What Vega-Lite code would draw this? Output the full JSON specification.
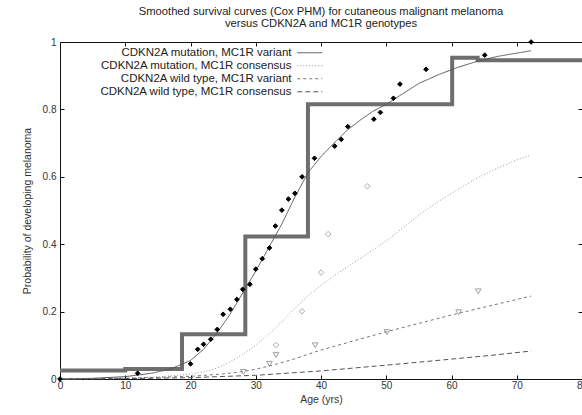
{
  "$schema": "https://vega.github.io/schema/vega-lite/v6.json",
  "width": 522,
  "height": 337,
  "autosize": {"type": "none"},
  "padding": {"left": 60, "top": 42, "right": 0, "bottom": 36},
  "background": "white",
  "config": {
    "view": {"stroke": null},
    "font": "Liberation Sans",
    "axis": {"grid": false, "domainColor": "#111", "tickColor": "#111", "labelColor": "#333", "titleColor": "#333", "labelFont": "Liberation Sans", "titleFont": "Liberation Sans", "titleFontWeight": "normal", "labelFontSize": 10, "titleFontSize": 10.5}
  },
  "title": {
    "text": ["Smoothed survival curves (Cox PHM) for cutaneous malignant melanoma", "versus CDKN2A and MC1R genotypes"],
    "font": "Liberation Sans",
    "fontSize": 11.2,
    "fontWeight": "normal",
    "color": "#222",
    "anchor": "middle",
    "lineHeight": 12,
    "offset": 8
  },
  "datasets": {
    "steps": [
      {"age": 0, "p": 0.025},
      {"age": 10, "p": 0.03},
      {"age": 18.7, "p": 0.133},
      {"age": 28.4, "p": 0.423},
      {"age": 38.0, "p": 0.815},
      {"age": 60.1, "p": 0.953},
      {"age": 64, "p": 0.946},
      {"age": 80, "p": 0.946}
    ],
    "curves": [
      {"series": "CDKN2A mutation, MC1R variant", "age": 0, "p": 0},
      {"series": "CDKN2A mutation, MC1R variant", "age": 5, "p": 0.002},
      {"series": "CDKN2A mutation, MC1R variant", "age": 10, "p": 0.007},
      {"series": "CDKN2A mutation, MC1R variant", "age": 14, "p": 0.017},
      {"series": "CDKN2A mutation, MC1R variant", "age": 17, "p": 0.03},
      {"series": "CDKN2A mutation, MC1R variant", "age": 20, "p": 0.055},
      {"series": "CDKN2A mutation, MC1R variant", "age": 22, "p": 0.088},
      {"series": "CDKN2A mutation, MC1R variant", "age": 24, "p": 0.135},
      {"series": "CDKN2A mutation, MC1R variant", "age": 26, "p": 0.19},
      {"series": "CDKN2A mutation, MC1R variant", "age": 28, "p": 0.255},
      {"series": "CDKN2A mutation, MC1R variant", "age": 30, "p": 0.32},
      {"series": "CDKN2A mutation, MC1R variant", "age": 32, "p": 0.39},
      {"series": "CDKN2A mutation, MC1R variant", "age": 34, "p": 0.46},
      {"series": "CDKN2A mutation, MC1R variant", "age": 36, "p": 0.54},
      {"series": "CDKN2A mutation, MC1R variant", "age": 38, "p": 0.612},
      {"series": "CDKN2A mutation, MC1R variant", "age": 40, "p": 0.66},
      {"series": "CDKN2A mutation, MC1R variant", "age": 42, "p": 0.70},
      {"series": "CDKN2A mutation, MC1R variant", "age": 44, "p": 0.738},
      {"series": "CDKN2A mutation, MC1R variant", "age": 46, "p": 0.768},
      {"series": "CDKN2A mutation, MC1R variant", "age": 48, "p": 0.795},
      {"series": "CDKN2A mutation, MC1R variant", "age": 50, "p": 0.815},
      {"series": "CDKN2A mutation, MC1R variant", "age": 52, "p": 0.84},
      {"series": "CDKN2A mutation, MC1R variant", "age": 55, "p": 0.877},
      {"series": "CDKN2A mutation, MC1R variant", "age": 58, "p": 0.903},
      {"series": "CDKN2A mutation, MC1R variant", "age": 61, "p": 0.925},
      {"series": "CDKN2A mutation, MC1R variant", "age": 64, "p": 0.943},
      {"series": "CDKN2A mutation, MC1R variant", "age": 67, "p": 0.957},
      {"series": "CDKN2A mutation, MC1R variant", "age": 70, "p": 0.967},
      {"series": "CDKN2A mutation, MC1R variant", "age": 72.2, "p": 0.974},
      {"series": "CDKN2A mutation, MC1R consensus", "age": 0, "p": 0},
      {"series": "CDKN2A mutation, MC1R consensus", "age": 10, "p": 0.002},
      {"series": "CDKN2A mutation, MC1R consensus", "age": 15, "p": 0.006},
      {"series": "CDKN2A mutation, MC1R consensus", "age": 20, "p": 0.014},
      {"series": "CDKN2A mutation, MC1R consensus", "age": 22, "p": 0.021},
      {"series": "CDKN2A mutation, MC1R consensus", "age": 24, "p": 0.032},
      {"series": "CDKN2A mutation, MC1R consensus", "age": 26, "p": 0.05},
      {"series": "CDKN2A mutation, MC1R consensus", "age": 28, "p": 0.073},
      {"series": "CDKN2A mutation, MC1R consensus", "age": 30, "p": 0.1},
      {"series": "CDKN2A mutation, MC1R consensus", "age": 32, "p": 0.133},
      {"series": "CDKN2A mutation, MC1R consensus", "age": 34, "p": 0.17},
      {"series": "CDKN2A mutation, MC1R consensus", "age": 36, "p": 0.21},
      {"series": "CDKN2A mutation, MC1R consensus", "age": 38, "p": 0.247},
      {"series": "CDKN2A mutation, MC1R consensus", "age": 40, "p": 0.278},
      {"series": "CDKN2A mutation, MC1R consensus", "age": 42, "p": 0.306},
      {"series": "CDKN2A mutation, MC1R consensus", "age": 45, "p": 0.345},
      {"series": "CDKN2A mutation, MC1R consensus", "age": 48, "p": 0.383},
      {"series": "CDKN2A mutation, MC1R consensus", "age": 50, "p": 0.41},
      {"series": "CDKN2A mutation, MC1R consensus", "age": 53, "p": 0.455},
      {"series": "CDKN2A mutation, MC1R consensus", "age": 55, "p": 0.487},
      {"series": "CDKN2A mutation, MC1R consensus", "age": 58, "p": 0.527},
      {"series": "CDKN2A mutation, MC1R consensus", "age": 61, "p": 0.563},
      {"series": "CDKN2A mutation, MC1R consensus", "age": 64, "p": 0.597},
      {"series": "CDKN2A mutation, MC1R consensus", "age": 67, "p": 0.625},
      {"series": "CDKN2A mutation, MC1R consensus", "age": 70, "p": 0.65},
      {"series": "CDKN2A mutation, MC1R consensus", "age": 72.2, "p": 0.665},
      {"series": "CDKN2A wild type, MC1R variant", "age": 0, "p": 0},
      {"series": "CDKN2A wild type, MC1R variant", "age": 10, "p": 0.002},
      {"series": "CDKN2A wild type, MC1R variant", "age": 20, "p": 0.008},
      {"series": "CDKN2A wild type, MC1R variant", "age": 25, "p": 0.015},
      {"series": "CDKN2A wild type, MC1R variant", "age": 28, "p": 0.022},
      {"series": "CDKN2A wild type, MC1R variant", "age": 30, "p": 0.029},
      {"series": "CDKN2A wild type, MC1R variant", "age": 33, "p": 0.043},
      {"series": "CDKN2A wild type, MC1R variant", "age": 36, "p": 0.06},
      {"series": "CDKN2A wild type, MC1R variant", "age": 39, "p": 0.08},
      {"series": "CDKN2A wild type, MC1R variant", "age": 42, "p": 0.097},
      {"series": "CDKN2A wild type, MC1R variant", "age": 45, "p": 0.113},
      {"series": "CDKN2A wild type, MC1R variant", "age": 50, "p": 0.14},
      {"series": "CDKN2A wild type, MC1R variant", "age": 55, "p": 0.165},
      {"series": "CDKN2A wild type, MC1R variant", "age": 60, "p": 0.19},
      {"series": "CDKN2A wild type, MC1R variant", "age": 65, "p": 0.213},
      {"series": "CDKN2A wild type, MC1R variant", "age": 70, "p": 0.236},
      {"series": "CDKN2A wild type, MC1R variant", "age": 72.2, "p": 0.246},
      {"series": "CDKN2A wild type, MC1R consensus", "age": 0, "p": 0},
      {"series": "CDKN2A wild type, MC1R consensus", "age": 10, "p": 0.001},
      {"series": "CDKN2A wild type, MC1R consensus", "age": 20, "p": 0.004},
      {"series": "CDKN2A wild type, MC1R consensus", "age": 30, "p": 0.011},
      {"series": "CDKN2A wild type, MC1R consensus", "age": 40, "p": 0.024},
      {"series": "CDKN2A wild type, MC1R consensus", "age": 50, "p": 0.041},
      {"series": "CDKN2A wild type, MC1R consensus", "age": 60, "p": 0.059},
      {"series": "CDKN2A wild type, MC1R consensus", "age": 66, "p": 0.07},
      {"series": "CDKN2A wild type, MC1R consensus", "age": 72.2, "p": 0.083}
    ],
    "obsMV": [
      {"age": 0, "p": 0}, {"age": 11.9, "p": 0.017}, {"age": 20.0, "p": 0.045}, {"age": 21.1, "p": 0.088},
      {"age": 22.0, "p": 0.103}, {"age": 23.1, "p": 0.118}, {"age": 24.1, "p": 0.147}, {"age": 25.0, "p": 0.192},
      {"age": 26.1, "p": 0.207}, {"age": 27.1, "p": 0.236}, {"age": 28.0, "p": 0.266}, {"age": 29.1, "p": 0.281},
      {"age": 30.0, "p": 0.326}, {"age": 31.0, "p": 0.357}, {"age": 32.1, "p": 0.389}, {"age": 33.0, "p": 0.454},
      {"age": 34.0, "p": 0.501}, {"age": 35.0, "p": 0.534}, {"age": 36.0, "p": 0.551}, {"age": 37.1, "p": 0.600},
      {"age": 39.0, "p": 0.655}, {"age": 42.1, "p": 0.691}, {"age": 43.1, "p": 0.711}, {"age": 44.1, "p": 0.749},
      {"age": 48.1, "p": 0.771}, {"age": 49.1, "p": 0.791}, {"age": 51.1, "p": 0.833}, {"age": 52.1, "p": 0.875},
      {"age": 56.1, "p": 0.919}, {"age": 65.1, "p": 0.961}, {"age": 72.2, "p": 1.0}
    ],
    "obsMC": [
      {"age": 33.1, "p": 0.101}, {"age": 37.1, "p": 0.201}, {"age": 40.0, "p": 0.316}, {"age": 41.1, "p": 0.430}, {"age": 47.1, "p": 0.572}
    ],
    "obsWV": [
      {"age": 28.1, "p": 0.021}, {"age": 32.1, "p": 0.045}, {"age": 33.1, "p": 0.071}, {"age": 39.1, "p": 0.100},
      {"age": 50.1, "p": 0.139}, {"age": 61.1, "p": 0.198}, {"age": 64.1, "p": 0.260}
    ]
  },
  "resolve": {"axis": {"x": "independent", "y": "independent"}},
  "layer": [
    {
      "data": {"name": "steps"},
      "mark": {"type": "line", "interpolate": "step-after", "stroke": "#6e6e6e", "strokeWidth": 4, "clip": true},
      "encoding": {
        "x": {"field": "age", "type": "quantitative", "scale": {"domain": [0, 80], "nice": false, "zero": false},
              "axis": {"orient": "bottom", "title": "Age (yrs)", "values": [0, 10, 20, 30, 40, 50, 60, 70, 80], "tickSize": -4, "labelPadding": 5, "titlePadding": 4, "labelFlush": false}},
        "y": {"field": "p", "type": "quantitative", "scale": {"domain": [0, 1], "nice": false},
              "axis": {"orient": "left", "title": "Probability of developing melanoma", "values": [0, 0.2, 0.4, 0.6, 0.8, 1], "format": "~g", "tickSize": -4, "labelPadding": 8, "titlePadding": 10, "labelFlush": false}}
      }
    },
    {
      "data": {"name": "curves"},
      "mark": {"type": "line", "strokeWidth": 1},
      "encoding": {
        "x": {"field": "age", "type": "quantitative", "axis": {"orient": "top", "labels": false, "title": null, "values": [0, 10, 20, 30, 40, 50, 60, 70, 80], "tickSize": -4}},
        "y": {"field": "p", "type": "quantitative", "axis": {"orient": "right", "labels": false, "title": null, "values": [0, 0.2, 0.4, 0.6, 0.8, 1], "tickSize": -4}},
        "color": {"field": "series", "type": "nominal",
          "scale": {"domain": ["CDKN2A mutation, MC1R variant", "CDKN2A mutation, MC1R consensus", "CDKN2A wild type, MC1R variant", "CDKN2A wild type, MC1R consensus"], "range": ["#555555", "#9a9a9a", "#777777", "#555555"]},
          "legend": {"orient": "none", "legendX": 244, "legendY": 5, "title": null, "symbolType": "M-2.5,0H2.5", "symbolSize": 100, "symbolStrokeWidth": 1, "labelAlign": "right", "labelOffset": -24, "labelFontSize": 11.5, "labelFont": "Liberation Sans", "labelColor": "#222", "rowPadding": 0, "padding": 0, "labelLimit": 0, "labelBaseline": "middle"}},
        "strokeDash": {"field": "series", "type": "nominal",
          "scale": {"domain": ["CDKN2A mutation, MC1R variant", "CDKN2A mutation, MC1R consensus", "CDKN2A wild type, MC1R variant", "CDKN2A wild type, MC1R consensus"], "range": [[1, 0], [1, 2], [3, 3], [5, 3]]},
          "legend": {"orient": "none", "legendX": 244, "legendY": 5, "title": null, "symbolType": "M-2.5,0H2.5", "symbolSize": 100, "symbolStrokeWidth": 1, "labelAlign": "right", "labelOffset": -24, "labelFontSize": 11.5, "labelFont": "Liberation Sans", "labelColor": "#222", "rowPadding": 0, "padding": 0, "labelLimit": 0, "labelBaseline": "middle"}}
      }
    },
    {
      "data": {"name": "obsMC"},
      "mark": {"type": "point", "shape": "diamond", "size": 30, "stroke": "#888888", "strokeWidth": 1, "filled": false},
      "encoding": {
        "x": {"field": "age", "type": "quantitative", "axis": null},
        "y": {"field": "p", "type": "quantitative", "axis": null}
      }
    },
    {
      "data": {"name": "obsWV"},
      "mark": {"type": "point", "shape": "triangle-down", "size": 32, "stroke": "#777777", "strokeWidth": 1, "filled": false},
      "encoding": {
        "x": {"field": "age", "type": "quantitative", "axis": null},
        "y": {"field": "p", "type": "quantitative", "axis": null}
      }
    },
    {
      "data": {"name": "obsMV"},
      "mark": {"type": "point", "shape": "diamond", "size": 22, "fill": "#000000", "stroke": "#000000", "strokeWidth": 1, "filled": true, "opacity": 1},
      "encoding": {
        "x": {"field": "age", "type": "quantitative", "axis": null},
        "y": {"field": "p", "type": "quantitative", "axis": null}
      }
    }
  ]
}
